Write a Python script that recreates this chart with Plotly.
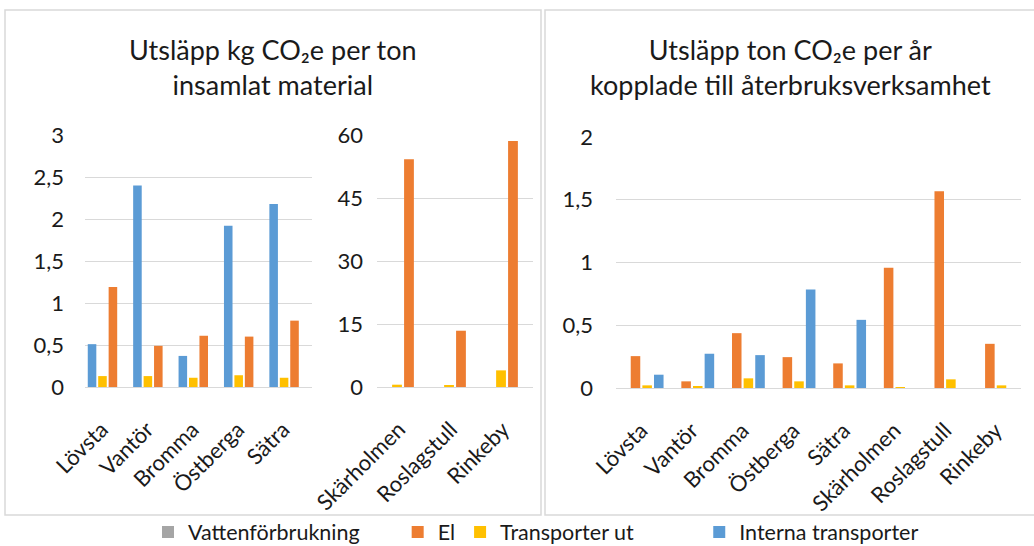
import plotly.graph_objects as go

# ---------------- data ----------------
cats_a = ["Lövsta", "Vantör", "Bromma", "Östberga", "Sätra"]
cats_b = ["Skärholmen", "Roslagstull", "Rinkeby"]
cats_c = ["Lövsta", "Vantör", "Bromma", "Östberga", "Sätra", "Skärholmen", "Roslagstull", "Rinkeby"]

series_names = ["Vattenförbrukning", "El", "Transporter ut", "Interna transporter"]
series_colors = ["#A5A5A5", "#ED7D31", "#FFC000", "#5B9BD5"]

# kg CO2e per ton (first five facilities)
a_vatten = [0, 0, 0, 0, 0]
a_el = [1.19, 0.49, 0.61, 0.60, 0.79]
a_transp_ut = [0.13, 0.13, 0.11, 0.14, 0.11]
a_interna = [0.51, 2.40, 0.37, 1.92, 2.18]

# kg CO2e per ton (last three facilities)
b_vatten = [0, 0, 0]
b_el = [54.2, 13.4, 58.6]
b_transp_ut = [0.55, 0.4, 3.96]
b_interna = [0, 0, 0]

# ton CO2e per year
c_vatten = [0, 0, 0, 0, 0, 0, 0, 0]
c_el = [0.254, 0.053, 0.437, 0.246, 0.196, 0.959, 1.568, 0.352]
c_transp_ut = [0.021, 0.011, 0.077, 0.053, 0.021, 0.008, 0.069, 0.021]
c_interna = [0.106, 0.273, 0.262, 0.784, 0.543, 0, 0, 0]

title_left = "Utsläpp kg CO₂e per ton<br>insamlat material"
title_right = "Utsläpp ton CO₂e per år<br>kopplade till återbruksverksamhet"

# ---------------- figure ----------------
W, H = 1034, 546
FONT = "Lato"
TXT = "#1a1a1a"
GRID = "#D9D9D9"
NB = "\u00a0"
legend_pad = [6, 0, 11, 0]   # extra spacing after legend entries

def px(x):
    return x / W

def py(y):
    return 1 - y / H

fig = go.Figure()

# right chart: order Vatten, El, Transporter ut, Interna (legend source)
for name, col, vals, pad in zip(series_names, series_colors,
                                [c_vatten, c_el, c_transp_ut, c_interna], legend_pad):
    fig.add_trace(go.Bar(x=cats_c, y=vals, name=name + NB * pad,
                         marker=dict(color=col, line=dict(width=0)),
                         xaxis="x3", yaxis="y3", showlegend=True))

# left charts: order Interna, Transporter ut, El, Vatten
left_order = [3, 2, 1, 0]
a_vals = [a_vatten, a_el, a_transp_ut, a_interna]
b_vals = [b_vatten, b_el, b_transp_ut, b_interna]
for i in left_order:
    fig.add_trace(go.Bar(x=cats_a, y=a_vals[i], name=series_names[i],
                         marker=dict(color=series_colors[i], line=dict(width=0)),
                         xaxis="x", yaxis="y", showlegend=False))
for i in left_order:
    fig.add_trace(go.Bar(x=cats_b, y=b_vals[i], name=series_names[i],
                         marker=dict(color=series_colors[i], line=dict(width=0)),
                         xaxis="x2", yaxis="y2", showlegend=False))

xcommon = dict(tickangle=-45, tickfont=dict(family=FONT, size=22, color=TXT), showgrid=False,
               showline=True, linecolor=GRID, linewidth=1, ticks="", fixedrange=True,
               automargin=False, ticklabelstandoff=20)
ycommon = dict(tickfont=dict(family=FONT, size=22, color=TXT), showgrid=True, gridcolor=GRID,
               gridwidth=1, zeroline=False, showline=False, ticks="", fixedrange=True,
               automargin=False)

y_bot_l, y_top_l = py(387), py(135)
y_bot_r, y_top_r = py(388), py(137)

fig.update_layout(
    width=W, height=H,
    autosize=False,
    margin=dict(l=0, r=0, t=0, b=0, pad=0, autoexpand=False),
    paper_bgcolor="white", plot_bgcolor="white",
    separators=", ",
    barmode="group", bargap=0.08, bargroupgap=0.18,
    font=dict(family=FONT, color=TXT),
    xaxis=dict(domain=[px(85), px(312)], anchor="y", ticklabelshift=-6, **xcommon),
    yaxis=dict(domain=[y_bot_l, y_top_l], anchor="x", range=[0, 3], dtick=0.5,
               ticklabelstandoff=20, **ycommon),
    xaxis2=dict(domain=[px(377), px(533)], anchor="y2", ticklabelshift=-4, **xcommon),
    yaxis2=dict(domain=[y_bot_l, y_top_l], anchor="x2", range=[0, 60], dtick=15,
                ticklabelstandoff=13, **ycommon),
    xaxis3=dict(domain=[px(616), px(1021)], anchor="y3", ticklabelshift=0, **xcommon),
    yaxis3=dict(domain=[y_bot_r, y_top_r], anchor="x3", range=[0, 2], dtick=0.5,
                ticklabelstandoff=22, **ycommon),
    legend=dict(orientation="h", x=px(536), xanchor="center", y=py(532), yanchor="middle",
                font=dict(family=FONT, size=21.5, color=TXT), itemsizing="constant",
                traceorder="normal", itemwidth=30, bgcolor="rgba(0,0,0,0)"),
    shapes=[
        dict(type="rect", xref="paper", yref="paper", x0=px(5), x1=px(541), y0=py(515), y1=py(10),
             line=dict(color=GRID, width=1.5), fillcolor="rgba(0,0,0,0)"),
        dict(type="rect", xref="paper", yref="paper", x0=px(545), x1=px(1045), y0=py(515), y1=py(10),
             line=dict(color=GRID, width=1.5), fillcolor="rgba(0,0,0,0)"),
    ],
    annotations=[
        dict(text=title_left, xref="paper", yref="paper", x=px(273), y=py(67), xanchor="center",
             yanchor="middle", showarrow=False, align="center",
             font=dict(family=FONT, size=27, color=TXT)),
        dict(text=title_right, xref="paper", yref="paper", x=px(790), y=py(67), xanchor="center",
             yanchor="middle", showarrow=False, align="center",
             font=dict(family=FONT, size=27, color=TXT)),
    ],
)

fig.write_html(
    "out.html",
    config={"displayModeBar": False},
    post_script="document.body.style.margin='0';document.documentElement.style.overflow='hidden';",
)
